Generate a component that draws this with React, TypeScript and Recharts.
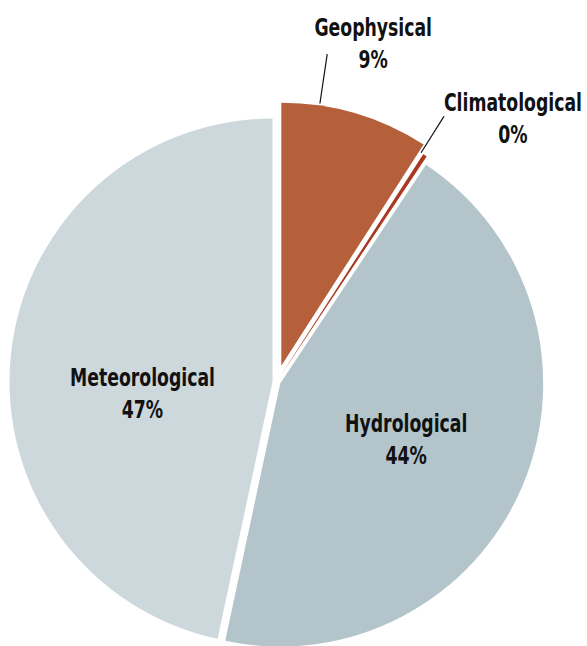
import { PieChart, Pie, Cell, Sector } from 'recharts';

const categories = ['Geophysical', 'Climatological', 'Hydrological', 'Meteorological'];
const shares = [9.1, 0.25, 44.0, 46.65];
const colors = ['#b5603a', '#a8381f', '#b3c5cb', '#cdd8dd'];

const data = categories.map((name, i) => ({ name, value: shares[i] }));

const CX = 276.5;
const CY = 382;
const R = 263;
const RAD = Math.PI / 180;
const FONT = "'DejaVu Sans Condensed', 'DejaVu Sans', sans-serif";
const SQUEEZE = 0.8; // no condensed face available, so narrow the glyphs

// how far each slice is pulled away from the centre (px)
const explode: Record<string, number> = {
  Geophysical: 17,
  Climatological: 8,
  Hydrological: 4,
  Meteorological: 4,
};

// label placement: outside ones get a leader line, inside ones sit at r * R
const labelLayout: Record<string, any> = {
  Geophysical: { outside: true, angleShift: 8, r1: 2, r2: 52, dx: 46, dy: -18 },
  Climatological: { outside: true, angleShift: 1, r1: 0, r2: 43, dx: 69, dy: -5 },
  Hydrological: { outside: false, r: 0.52, dx: 0, dy: 3 },
  Meteorological: { outside: false, r: 0.52, dx: 6, dy: 26 },
};

const polar = (cx: number, cy: number, r: number, angle: number) => ({
  x: cx + r * Math.cos(-angle * RAD),
  y: cy + r * Math.sin(-angle * RAD),
});

const ExplodedSector = (props: any) => {
  const { cx, cy, midAngle } = props;
  const key = props.payload?.name ?? props.name;
  const c = polar(cx, cy, explode[key] ?? 0, midAngle);
  return <Sector {...props} cx={c.x} cy={c.y} />;
};

const TwoLines = ({ x, y, top, bottom }: any) => (
  <text
    textAnchor="middle"
    fontFamily={FONT}
    fontSize={24}
    fontWeight="bold"
    fill="#111"
    transform={`translate(${x} 0) scale(${SQUEEZE} 1) translate(${-x} 0)`}
  >
    <tspan x={x} y={y}>{top}</tspan>
    <tspan x={x} y={y + 32}>{bottom}</tspan>
  </text>
);

const renderLabel = (props: any) => {
  const { cx, cy, midAngle, outerRadius, value } = props;
  const name = props.payload?.name ?? props.name;
  const cfg = labelLayout[name];
  const c = polar(cx, cy, explode[name] ?? 0, midAngle);
  const pct = `${Math.round(value)}%`;

  if (cfg.outside) {
    const a = midAngle + cfg.angleShift;
    const p1 = polar(c.x, c.y, outerRadius + cfg.r1, a);
    const p2 = polar(c.x, c.y, outerRadius + cfg.r2, a);
    return (
      <g>
        <line x1={p1.x} y1={p1.y} x2={p2.x} y2={p2.y} stroke="#111" strokeWidth={1.2} />
        <TwoLines x={p2.x + cfg.dx} y={p2.y + cfg.dy} top={name} bottom={pct} />
      </g>
    );
  }

  const p = polar(c.x, c.y, outerRadius * cfg.r, midAngle);
  return <TwoLines x={p.x + cfg.dx} y={p.y + cfg.dy - 7.5} top={name} bottom={pct} />;
};

export default function App() {
  return (
    <div style={{ position: 'absolute', left: 0, top: 0 }}>
      <PieChart width={587} height={646} margin={{ top: 0, right: 0, bottom: 0, left: 0 }}>
        <Pie
          data={data}
          dataKey="value"
          nameKey="name"
          cx={CX}
          cy={CY}
          outerRadius={R}
          startAngle={90}
          endAngle={-270}
          stroke="none"
          shape={ExplodedSector}
          label={renderLabel}
          labelLine={false}
          isAnimationActive={false}
        >
          {data.map((d, i) => (
            <Cell key={d.name} fill={colors[i]} />
          ))}
        </Pie>
      </PieChart>
    </div>
  );
}
